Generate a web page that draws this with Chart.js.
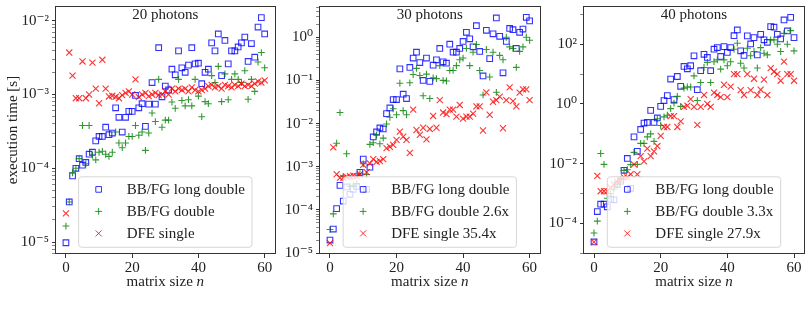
<!DOCTYPE html>
<html>
<head>
<meta charset="utf-8">
<script src="https://cdn.jsdelivr.net/npm/chart.js@4/dist/chart.umd.min.js"></script>
<style>
  html, body { margin: 0; padding: 0; background: #fff; }
  #wrap { position: relative; width: 811px; height: 317px; }
  canvas { position: absolute; top: 0; }
</style>
</head>
<body>
<div id="wrap">
  <canvas id="c20" width="280" height="317" style="left:0px"></canvas>
  <canvas id="c30" width="265" height="317" style="left:280px"></canvas>
  <canvas id="c40" width="266" height="317" style="left:545px"></canvas>
</div>
<script>
// matrix size n
const matrixSizes = [0,1,2,3,4,5,6,7,8,9,10,11,12,13,14,15,16,17,18,19,20,21,22,23,24,25,26,27,28,29,30,
  31,32,33,34,35,36,37,38,39,40,41,42,43,44,45,46,47,48,49,50,51,52,53,54,55,56,57,58,59,60];

// execution time [s], 20 photons
const longDouble20 = [9.8e-6,3.5e-5,7.9e-5,1.0e-4,1.35e-4,1.1e-4,1.2e-4,1.55e-4,1.65e-4,2.35e-4,2.7e-4,
  2.7e-4,3.6e-4,2.85e-4,3.0e-4,6.6e-4,4.9e-4,3.1e-4,4.9e-4,5.9e-4,5.9e-4,9.7e-4,6.6e-4,7.5e-4,3.7e-4,
  7.4e-4,1.45e-3,7.4e-4,4.3e-3,9.3e-4,1.3e-3,1.15e-3,2.2e-3,1.85e-3,3.9e-3,2.3e-3,2.0e-3,2.5e-3,4.3e-3,
  2.6e-3,2.65e-3,1.4e-3,2.0e-3,2.2e-3,5.0e-3,3.9e-3,6.6e-3,1.8e-3,5.4e-3,2.6e-3,3.9e-3,3.9e-3,4.4e-3,
  5.0e-3,6.0e-3,2.8e-3,4.9e-3,3.2e-3,8.2e-3,1.1e-2,6.6e-3];
const double20 = [1.65e-5,3.5e-5,8.7e-5,1.0e-4,1.35e-4,3.8e-4,1.15e-4,3.8e-4,1.5e-4,1.3e-4,1.65e-4,
  1.7e-4,1.55e-4,1.45e-4,1.65e-4,3.1e-4,2.2e-4,1.9e-4,2.2e-4,2.7e-4,2.7e-4,3.8e-4,2.8e-4,3.1e-4,1.75e-4,
  3.0e-4,5.6e-4,4.3e-4,1.6e-3,3.6e-4,4.5e-4,4.5e-4,7.9e-4,6.5e-4,1.6e-3,8.3e-4,7.0e-4,8.5e-4,7.0e-4,
  1.6e-3,9.5e-4,5.0e-4,8.0e-4,7.5e-4,1.8e-3,1.45e-3,2.4e-3,8.0e-4,1.9e-3,8.5e-4,1.6e-3,1.9e-3,1.6e-3,
  1.45e-3,2.1e-3,8.6e-4,1.6e-3,1.1e-3,2.75e-3,3.7e-3,2.3e-3];
const dfe20 = [2.45e-5,3.7e-3,1.8e-3,8.9e-4,8.9e-4,2.8e-3,8.9e-4,1.0e-3,2.7e-3,1.2e-3,7.6e-4,
  2.95e-3,1.2e-3,9.4e-4,9.6e-4,9.3e-4,8.9e-4,9.8e-4,1.05e-3,1.1e-3,1.0e-3,1.6e-3,9.2e-4,1.0e-3,1.05e-3,
  9.5e-4,1.0e-3,1.05e-3,9.8e-4,1.0e-3,1.1e-3,1.0e-3,1.2e-3,1.1e-3,1.2e-3,1.15e-3,1.2e-3,1.1e-3,1.25e-3,
  1.15e-3,1.1e-3,1.15e-3,1.2e-3,1.3e-3,1.35e-3,1.25e-3,1.3e-3,1.2e-3,1.35e-3,1.3e-3,1.25e-3,1.35e-3,1.3e-3,
  1.4e-3,1.3e-3,1.35e-3,1.3e-3,1.4e-3,1.5e-3,1.45e-3,1.55e-3];

// 30 photons
const longDouble30 = [2.0e-5,3.6e-5,1.07e-4,3.7e-4,1.6e-4,3.4e-4,2.3e-4,3.0e-4,3.5e-4,7.4e-4,1.5e-3,
  3.0e-4,9.8e-4,4.9e-3,6.4e-3,7.9e-3,7.5e-3,1.7e-2,2.3e-2,3.6e-2,3.6e-2,0.185,4.8e-2,3.8e-2,0.2,
  0.33,0.45,0.26,0.1,0.33,0.095,0.225,0.3,0.55,0.27,0.25,0.69,0.45,0.45,0.55,0.8,1.3,0.92,0.6,1.85,
  0.47,0.127,1.45,0.32,1.2,2.8,1.05,0.15,0.8,1.6,1.5,0.55,1.3,1.55,2.9,2.4];
const double30 = [3.5e-5,8.1e-5,3.5e-3,1.8e-2,6.0e-4,2.0e-3,3.5e-4,3.7e-4,4.0e-4,6.9e-4,1.17e-3,
  6.6e-4,3.3e-3,3.6e-3,5.4e-3,3.4e-3,4.6e-3,9.8e-3,1.4e-2,2.2e-2,1.6e-2,8.6e-2,2.0e-2,1.6e-2,8.8e-2,
  0.137,0.19,0.13,4.4e-2,0.14,3.8e-2,0.115,0.11,0.22,0.1,0.097,0.17,0.17,0.22,0.3,0.33,0.55,0.22,0.45,0.68,
  0.17,4.6e-2,0.52,0.12,0.45,5.3e-2,0.38,0.3,1.0,0.6,0.55,0.2,0.47,0.6,1.0,0.85];
const dfe30 = [1.7e-5,2.8e-3,6.7e-4,5.5e-4,5.5e-4,5.8e-4,6.0e-4,6.2e-4,6.0e-4,6.7e-4,1.1e-3,
  7.5e-4,1.2e-3,1.5e-3,1.3e-3,1.35e-3,1.5e-3,2.7e-3,2.9e-3,3.2e-3,4.2e-3,6.5e-3,5.0e-3,4.2e-3,2.1e-3,
  2.1e-2,7.1e-3,5.5e-3,8.0e-3,4.3e-3,7.5e-3,1.5e-2,8.0e-3,3.5e-2,1.8e-2,1.65e-2,2.1e-2,2.1e-2,1.45e-2,
  2.7e-2,1.3e-2,1.45e-2,1.45e-2,1.7e-2,2.5e-2,2.5e-2,6.9e-3,5.3e-2,1.6e-2,3.2e-2,3.5e-2,4.2e-2,7.8e-3,
  3.5e-2,6.9e-2,3.3e-2,2.5e-2,5.2e-2,6.2e-2,6.2e-2,3.5e-2];

// 40 photons
const longDouble40 = [2.4e-5,2.5e-4,4.4e-4,4.4e-4,3.6e-4,6.5e-4,6.2e-4,2.0e-3,2.6e-3,6.0e-3,1.5e-2,
  1.5e-3,7.9e-2,2.6e-2,0.14,0.23,0.24,0.61,0.24,0.34,0.83,1.3,1.9,6.8,1.4,8.3,3.9,18,15,19,41,
  3.0,13,46,36,13,68,77,39,83,53,77,193,300,60,42,190,102,166,44,215,140,116,387,370,215,150,650,278,790,166];
const double40 = [4.8e-5,1.2e-4,2.2e-2,9.5e-3,7.0e-4,1.0e-3,1.4e-3,2.0e-3,3.0e-3,6.0e-3,6.3e-3,
  9.3e-3,2.4e-2,9.5e-3,4.8e-2,4.8e-2,7.9e-2,0.1,5.6e-2,0.32,0.19,0.37,0.42,0.7,1.07,1.8,0.83,3.4,3.7,3.7,8.7,
  1.3,5.2,16.6,24.7,5.2,26,30,14.7,30,19,26,68,108,23,16,73,41,57,16,77,50,44,140,140,100,57,230,100,285,60];
const dfe40 = [2.4e-5,3.9e-3,1.2e-3,1.2e-3,1.2e-3,1.6e-3,2.0e-3,2.5e-3,2.8e-3,3.5e-3,3.5e-3,
  4.5e-3,9.5e-3,4.4e-3,1.8e-2,1.2e-2,3.2e-2,1.8e-2,2.6e-2,3.9e-2,8.5e-2,0.17,0.17,0.39,0.39,0.17,0.26,0.8,0.88,1.45,0.8,
  0.2,0.8,2.0,1.0,0.8,2.4,2.0,1.7,4.4,1.7,3.8,10,10,2.9,2.0,10,2.9,7,2.0,3.0,6.5,2.0,15.8,12,10,6,26,10,10,6];

const xTicks = [0, 20, 40, 60];

Chart.defaults.font.family = "'Liberation Serif', 'DejaVu Serif', serif";
Chart.defaults.color = '#222';

const SUP = {'-': '\u207B', '0': '\u2070', '1': '\u00B9', '2': '\u00B2', '3': '\u00B3',
  '4': '\u2074', '5': '\u2075', '6': '\u2076', '7': '\u2077', '8': '\u2078', '9': '\u2079'};
function pow10Label(e) {
  return '10' + String(e).split('').map(c => SUP[c]).join('');
}

function drawMarker(ctx, style, x, y, r, color) {
  ctx.save();
  ctx.strokeStyle = color;
  ctx.lineWidth = 1;
  ctx.beginPath();
  if (style === 'rect') {
    const s = r * Math.SQRT1_2;
    ctx.rect(x - s, y - s, 2 * s, 2 * s);
  } else if (style === 'cross') {
    ctx.moveTo(x - r, y); ctx.lineTo(x + r, y);
    ctx.moveTo(x, y - r); ctx.lineTo(x, y + r);
  } else {
    const s = r * Math.SQRT1_2;
    ctx.moveTo(x - s, y - s); ctx.lineTo(x + s, y + s);
    ctx.moveTo(x - s, y + s); ctx.lineTo(x + s, y - s);
  }
  ctx.stroke();
  ctx.restore();
}

// frame, inner title, axis titles and a matplotlib-like legend
const decorations = {
  id: 'decorations',
  afterDatasetsDraw(chart, args, opts) {
    const ctx = chart.ctx;
    const a = chart.chartArea;
    const cx = (a.left + a.right) / 2;
    ctx.save();

    // legend
    ctx.font = "15px 'Liberation Serif', serif";
    const sets = chart.data.datasets;
    let maxW = 0;
    sets.forEach(d => { maxW = Math.max(maxW, ctx.measureText(d.label).width); });
    const w = 48 + maxW + 7;
    const h = 70.5;
    const bx = cx - w / 2;
    const by = a.bottom - 6.7 - h;
    const rr = 3;
    ctx.beginPath();
    ctx.moveTo(bx + rr, by);
    ctx.lineTo(bx + w - rr, by);
    ctx.arcTo(bx + w, by, bx + w, by + rr, rr);
    ctx.lineTo(bx + w, by + h - rr);
    ctx.arcTo(bx + w, by + h, bx + w - rr, by + h, rr);
    ctx.lineTo(bx + rr, by + h);
    ctx.arcTo(bx, by + h, bx, by + h - rr, rr);
    ctx.lineTo(bx, by + rr);
    ctx.arcTo(bx, by, bx + rr, by, rr);
    ctx.closePath();
    ctx.fillStyle = 'rgba(255,255,255,0.8)';
    ctx.fill();
    ctx.strokeStyle = '#d6d6d6';
    ctx.lineWidth = 1;
    ctx.stroke();
    ctx.fillStyle = '#222';
    ctx.textBaseline = 'middle';
    ctx.textAlign = 'left';
    sets.forEach((d, i) => {
      const ry = by + 12.6 + i * 22;
      drawMarker(ctx, d.pointStyle, bx + 20, ry, d.pointRadius, d.borderColor);
      ctx.fillText(d.label, bx + 48, ry + 1);
    });

    // title inside the plot
    ctx.textAlign = 'center';
    ctx.fillText(opts.title, cx, a.top + 9);

    // x axis title with italic n
    const t1 = 'matrix size ';
    ctx.font = "15px 'Liberation Serif', serif";
    const w1 = ctx.measureText(t1).width;
    ctx.font = "italic 15px 'Liberation Serif', serif";
    const w2 = ctx.measureText('n').width;
    const x0 = cx - (w1 + w2) / 2;
    ctx.textAlign = 'left';
    ctx.font = "15px 'Liberation Serif', serif";
    ctx.fillText(t1, x0, a.bottom + 28);
    ctx.font = "italic 15px 'Liberation Serif', serif";
    ctx.fillText('n', x0 + w1, a.bottom + 28);

    // y axis title
    if (opts.yTitle) {
      ctx.font = "15px 'Liberation Serif', serif";
      ctx.translate(13, (a.top + a.bottom) / 2);
      ctx.rotate(-Math.PI / 2);
      ctx.textAlign = 'center';
      ctx.fillText(opts.yTitle, 0, 0);
    }
    ctx.restore();

    // axes frame
    ctx.save();
    ctx.strokeStyle = '#333';
    ctx.lineWidth = 1;
    ctx.strokeRect(Math.round(a.left) - 0.5, Math.round(a.top) + 0.5,
      Math.round(a.right - a.left) + 1, Math.round(a.bottom - a.top) - 1);
    ctx.restore();
  }
};

function logTicks(min, max, labelled, withMinor) {
  const out = [];
  for (let e = -7; e <= 4; e++) {
    const steps = withMinor ? [1,2,3,4,5,6,7,8,9] : [1];
    steps.forEach(m => {
      const v = Number((m * Math.pow(10, e)).toPrecision(3));
      if (v >= min && v <= max) out.push({ value: v, major: m === 1 && labelled.includes(e) });
    });
  }
  return out;
}

function makePanel(id, cfg) {
  const ctx = document.getElementById(id);
  return new Chart(ctx, {
    type: 'scatter',
    data: {
      datasets: [{
        label: cfg.labels[0],
        data: matrixSizes.map((n, i) => ({ x: n, y: cfg.longDouble[i] })),
        pointStyle: 'rect', pointRadius: 4, borderWidth: 1.1,
        borderColor: 'rgba(0,0,255,0.8)', backgroundColor: 'rgba(0,0,0,0)', order: 3
      }, {
        label: cfg.labels[1],
        data: matrixSizes.map((n, i) => ({ x: n, y: cfg.double[i] })),
        pointStyle: 'cross', pointRadius: 3.4, borderWidth: 1.1,
        borderColor: 'rgba(0,128,0,0.8)', backgroundColor: 'rgba(0,0,0,0)', order: 2
      }, {
        label: cfg.labels[2],
        data: matrixSizes.map((n, i) => ({ x: n, y: cfg.dfe[i] })),
        pointStyle: 'crossRot', pointRadius: 4.3, borderWidth: 1.1,
        borderColor: 'rgba(255,0,0,0.8)', backgroundColor: 'rgba(0,0,0,0)', order: 1
      }]
    },
    options: {
      responsive: false,
      animation: false,
      events: [],
      layout: { padding: { top: 6, right: cfg.padRight, left: 0, bottom: 0 } },
      plugins: {
        legend: { display: false },
        tooltip: { enabled: false },
        decorations: { title: cfg.title, yTitle: cfg.yTitle }
      },
      scales: {
        x: {
          type: 'linear', min: -3, max: 63,
          afterBuildTicks: s => { s.ticks = xTicks.map(v => ({ value: v })); },
          afterFit: s => { s.height = 63; s.paddingLeft = 0; s.paddingRight = 0; },
          grid: { drawOnChartArea: false, drawTicks: true, tickLength: 4, tickColor: '#333' },
          border: { display: false },
          ticks: { font: { size: 15 }, padding: 1, maxRotation: 0, autoSkip: false, color: '#222' }
        },
        y: {
          type: 'logarithmic', min: cfg.yMin, max: cfg.yMax,
          afterBuildTicks: s => { s.ticks = logTicks(cfg.yMin, cfg.yMax, cfg.yLabelled, cfg.minor); },
          afterFit: s => { s.width = cfg.yWidth; s.paddingTop = 0; s.paddingBottom = 0; },
          grid: {
            drawOnChartArea: false, drawTicks: true, tickLength: 4, tickColor: '#333',
            tickWidth: c => (c.tick && c.tick.major ? 1 : 0.6)
          },
          border: { display: false },
          ticks: {
            font: { size: 15 }, padding: 3, autoSkip: false, color: '#222',
            callback: (v) => {
              const e = Math.log10(v);
              const r = Math.round(e);
              return Math.abs(e - r) < 1e-6 && cfg.yLabelled.includes(r) ? pow10Label(r) : '';
            }
          }
        }
      }
    },
    plugins: [decorations]
  });
}

makePanel('c20', {
  title: '20 photons', yTitle: 'execution time [s]',
  labels: ['BB/FG long double', 'BB/FG double', 'DFE single'],
  longDouble: longDouble20, double: double20, dfe: dfe20,
  yMin: 6.9e-6, yMax: 1.58e-2, yLabelled: [-5, -4, -3, -2], minor: true,
  yWidth: 56, padRight: 3
});
makePanel('c30', {
  title: '30 photons', yTitle: null,
  labels: ['BB/FG long double', 'BB/FG double 2.6x', 'DFE single 35.4x'],
  longDouble: longDouble30, double: double30, dfe: dfe30,
  yMin: 9.5e-6, yMax: 5.3, yLabelled: [-5, -4, -3, -2, -1, 0], minor: true,
  yWidth: 40, padRight: 5
});
makePanel('c40', {
  title: '40 photons', yTitle: null,
  labels: ['BB/FG long double', 'BB/FG double 3.3x', 'DFE single 27.9x'],
  longDouble: longDouble40, double: double40, dfe: dfe40,
  yMin: 9.5e-6, yMax: 1900, yLabelled: [-4, -2, 0, 2], minor: false,
  yWidth: 39, padRight: 7
});
</script>
</body>
</html>
